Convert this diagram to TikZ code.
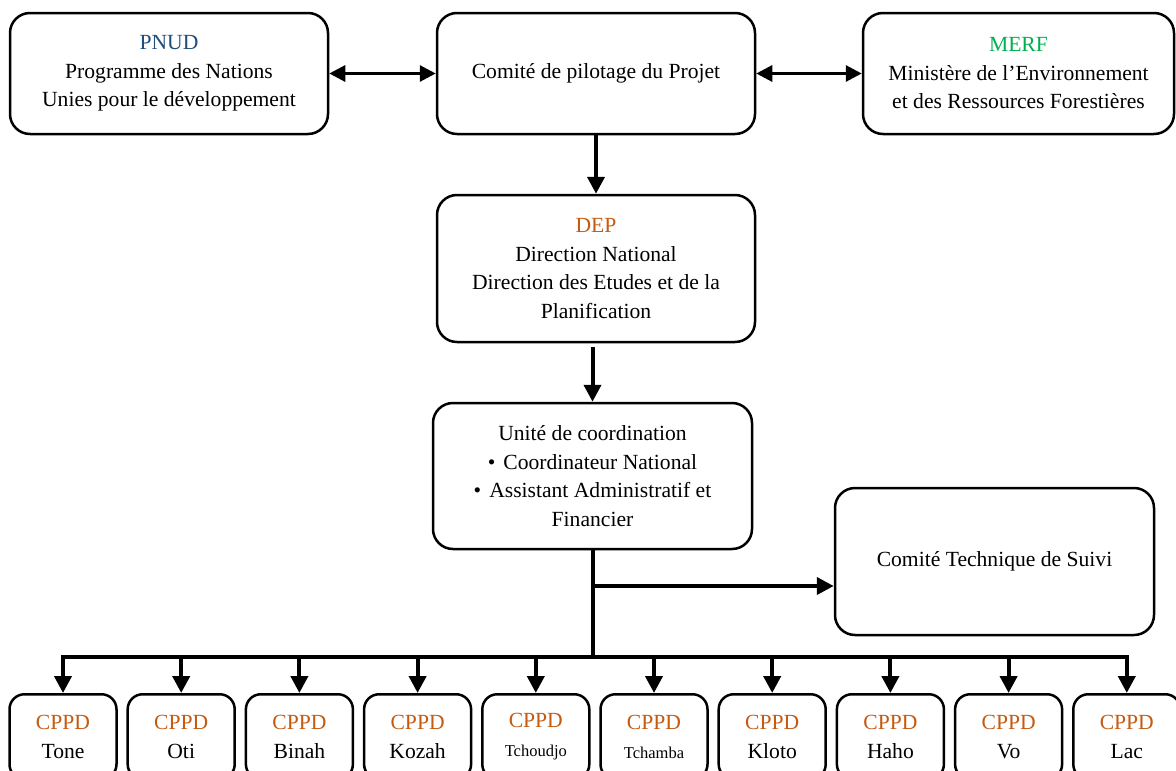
\documentclass[tikz,border=0pt]{standalone}
\usepackage{fontspec}
\setmainfont{Liberation Serif}
\usetikzlibrary{arrows.meta}
\definecolor{pnudblue}{RGB}{31,78,121}
\definecolor{merfgreen}{RGB}{0,176,80}
\definecolor{deporange}{RGB}{197,90,17}
\begin{document}
\begin{tikzpicture}[x=1pt,y=-1pt,
  box/.style={draw, line width=2.5pt, rounded corners=20pt, align=center,
    font=\fontsize{21.6}{28.5}\selectfont, inner sep=0pt},
  cppd/.style={draw, line width=2.5pt, rounded corners=15pt, align=center,
    font=\fontsize{21.6}{29}\selectfont, minimum width=107pt, minimum height=85pt,
    anchor=north, inner sep=0pt},
  arr/.style={line width=4pt, -{Triangle[length=17pt,width=17pt]}},
  darr/.style={line width=3pt, {Triangle[length=16pt,width=16pt]}-{Triangle[length=16pt,width=16pt]}},
  bus/.style={line width=4pt, line cap=rect},
]
\clip (0,0) rectangle (1176,771);
\fill[white] (0,0) rectangle (1176,771);

\node[box, minimum width=318pt, minimum height=121pt] (pnud) at (169,73.5)
  {\textcolor{pnudblue}{PNUD}\\Programme des Nations\\Unies pour le développement};
\node[box, minimum width=318pt, minimum height=121pt] (comite) at (596,73.5)
  {Comité de pilotage du Projet};
\node[box, minimum width=311pt, minimum height=121pt] (merf) at (1018.5,73.5)
  {\textcolor{merfgreen}{MERF}\\Ministère de l’Environnement\\et des Ressources Forestières};
\node[box, minimum width=318pt, minimum height=147pt] (dep) at (596,268.5)
  {\textcolor{deporange}{DEP}\\Direction National\\Direction des Etudes et de la\\Planification};
\node[box, minimum width=319pt, minimum height=146pt] (unit) at (592.5,476)
  {Unité de coordination\\•\hspace{8pt}Coordinateur National\\•\hspace{8pt}Assistant Administratif et\\Financier};
\node[box, minimum width=319pt, minimum height=147pt] (cts) at (994.5,561.5)
  {Comité Technique de Suivi};

\foreach \i/\n in {0/Tone,1/Oti,2/Binah,3/Kozah,
    4/{\fontsize{16.5}{27}\selectfont Tchoudjo},5/{\fontsize{16.5}{27}\selectfont Tchamba},
    6/Kloto,7/Haho,8/Vo,9/Lac}{
  \node[cppd] (c\i) at ({63+118.2*\i},693) {\textcolor{deporange}{CPPD}\\\n};
}

\draw[darr] (pnud) -- (comite);
\draw[darr] (comite) -- (merf);
\draw[arr] (comite) -- (dep);
\draw[arr, shorten <=4pt] (dep.south -| unit.north) -- (unit.north);

\coordinate (branch) at (592.5,586);
\coordinate (busM) at (592.5,657);
\coordinate (busL) at (63,657);
\coordinate (busR) at (1127.2,657);
\draw[line width=4pt] (unit.south) -- (busM);
\draw[arr] (branch) -- (branch -| cts.west);
\draw[bus] (busL) -- (busR);
\foreach \i in {0,...,9}{
  \draw[arr] (busM -| c\i.north) -- (c\i.north);
}
\end{tikzpicture}
\end{document}
